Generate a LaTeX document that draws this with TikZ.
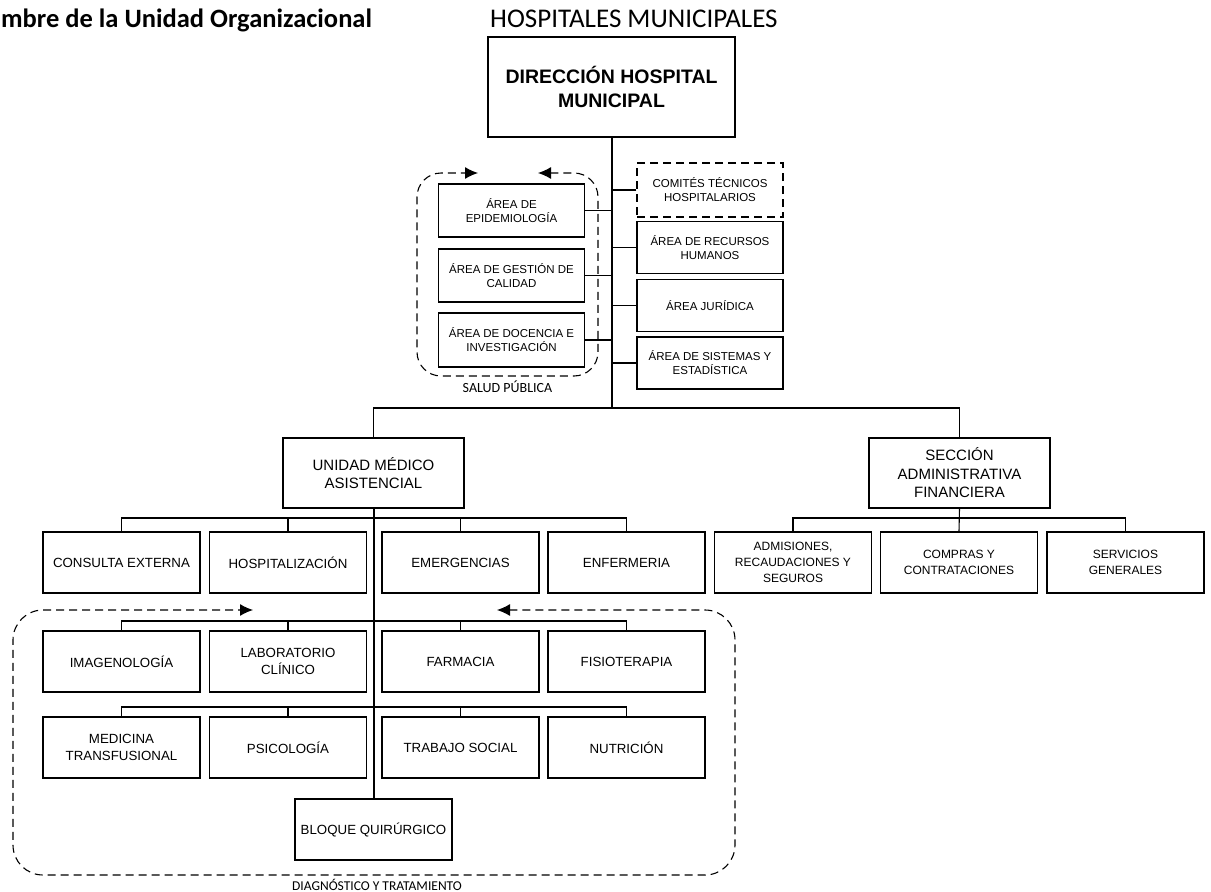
\documentclass[tikz,border=0pt]{standalone}
\usepackage{fontspec}
\setmainfont{Liberation Sans}
\newfontfamily\calib{Carlito}
\usetikzlibrary{arrows.meta}
\begin{document}
\begin{tikzpicture}[x=1pt,y=-1pt,
  box/.style={draw,line width=1.1pt,align=center,inner sep=1pt},
  wide/.style={minimum width=157,minimum height=61},
  small/.style={minimum width=146,font=\fontsize{11.5}{14}\selectfont},
  tA/.style={font=\fontsize{13.3}{16.5}\selectfont},
  tB/.style={font=\fontsize{12}{16}\selectfont},
  tU/.style={font=\fontsize{15}{18.5}\selectfont},
  link/.style={line width=1.1pt},
  trunk/.style={line width=2pt},
  grp/.style={line width=1.1pt,dash pattern=on 8pt off 5pt,
    {Latex[length=13pt,width=12pt]}-{Latex[length=13pt,width=12pt]}},
  grplabel/.style={anchor=base,font=\calib\fontsize{14}{16}\selectfont,inner sep=0pt}]
\useasboundingbox (0,0) rectangle (1211,892);

% titles
\node[anchor=base west,inner sep=0pt,font=\calib\bfseries\fontsize{26.5}{30}\selectfont] (ttl) at (1,27) {mbre de la Unidad Organizacional};
\node[anchor=base west,inner sep=0pt,font=\calib\fontsize{27}{30}\selectfont] (hosp) at (490,27) {HOSPITALES MUNICIPALES};

% top
\node[box,line width=1.6pt,minimum width=247,minimum height=100,font=\bfseries\fontsize{19.5}{24}\selectfont] (dir) at (611.5,87) {DIRECCIÓN HOSPITAL\\MUNICIPAL};

% salud publica
\node[box,small,minimum height=53] (epi) at (511.5,210.5) {ÁREA DE\\EPIDEMIOLOGÍA};
\node[box,small,minimum height=53] (gest) at (511.5,275.5) {ÁREA DE GESTIÓN DE\\CALIDAD};
\node[box,small,minimum height=54] (doc) at (511.5,340) {ÁREA DE DOCENCIA E\\INVESTIGACIÓN};
\node[grplabel] (salud) at (507.5,392.5) {SALUD PÚBLICA};

% staff right
\node[box,small,minimum height=54,dash pattern=on 8pt off 5pt] (com) at (710,190) {COMITÉS TÉCNICOS\\HOSPITALARIOS};
\node[box,small,minimum height=52] (rh) at (710,247.5) {ÁREA DE RECURSOS\\HUMANOS};
\node[box,small,minimum height=52] (jur) at (710,305.5) {ÁREA JURÍDICA};
\node[box,small,minimum height=52] (sis) at (710,363) {ÁREA DE SISTEMAS Y\\ESTADÍSTICA};

% second level
\node[box,tU,minimum width=181,minimum height=70] (uni) at (373.5,473) {UNIDAD MÉDICO\\ASISTENCIAL};
\node[box,tU,minimum width=181,minimum height=70] (sec) at (959.5,473) {SECCIÓN\\ADMINISTRATIVA\\FINANCIERA};

% row A
\node[box,wide,tA] (cons) at (121.5,562.5) {CONSULTA EXTERNA};
\node[box,wide,tA] (hosz) at (288,562.5) {HOSPITALIZACIÓN};
\node[box,wide,tA] (emer) at (460.5,562.5) {EMERGENCIAS};
\node[box,wide,tA] (enf) at (626.5,562.5) {ENFERMERIA};

\node[box,wide,tB] (adm) at (793,562.5) {ADMISIONES,\\RECAUDACIONES Y\\SEGUROS};
\node[box,wide,tB] (comp) at (959,562.5) {COMPRAS Y\\CONTRATACIONES};
\node[box,wide,tB] (serv) at (1125.5,562.5) {SERVICIOS\\GENERALES};

% row B
\node[box,wide,tA] (imag) at (121.5,661.5) {IMAGENOLOGÍA};
\node[box,wide,tA] (lab) at (288,661.5) {LABORATORIO\\CLÍNICO};
\node[box,wide,tA] (farm) at (460.5,661.5) {FARMACIA};
\node[box,wide,tA] (fis) at (626.5,661.5) {FISIOTERAPIA};

% row C
\node[box,wide,tA] (med) at (121.5,747.5) {MEDICINA\\TRANSFUSIONAL};
\node[box,wide,tA] (psi) at (288,747.5) {PSICOLOGÍA};
\node[box,wide,tA] (trab) at (460.5,747.5) {TRABAJO SOCIAL};
\node[box,wide,tA] (nut) at (626.5,747.5) {NUTRICIÓN};

\node[box,wide,tA] (blq) at (373.5,829.5) {BLOQUE QUIRÚRGICO};
\node[grplabel,font=\calib\fontsize{13.5}{15}\selectfont] (diag) at (377,890) {DIAGNÓSTICO Y TRATAMIENTO};

% coordinates
\coordinate (b1) at (611.5,408);
\coordinate (bA) at (373.5,518);
\coordinate (bB) at (373.5,621);
\coordinate (bC) at (373.5,707);
\coordinate (bS) at (959.5,518);

% trunks
\draw[trunk] (dir.south) -- (b1);
\draw[trunk] (uni.south) -- (blq.north);
\draw[link] (uni.north) |- (b1);
\draw[link] (sec.north) |- (b1);

% staff links
\foreach \n in {epi,gest,doc} \draw[link] (\n.east) -- (\n.east -| b1);
\foreach \n in {com,rh,jur,sis} \draw[link] (\n.west) -- (\n.west -| b1);

% buses
\draw[link] (cons.north) |- (bA) -| (enf.north);
\draw[link] (hosz.north) -- (hosz.north |- bA);
\draw[link] (emer.north) -- (emer.north |- bA);
\draw[link] (imag.north) |- (bB) -| (fis.north);
\draw[link] (lab.north) -- (lab.north |- bB);
\draw[link] (farm.north) -- (farm.north |- bB);
\draw[link] (med.north) |- (bC) -| (nut.north);
\draw[link] (psi.north) -- (psi.north |- bC);
\draw[link] (trab.north) -- (trab.north |- bC);
\draw[link] (adm.north) |- (bS) -| (serv.north);
\draw[link] (sec.south) -- (comp.north);

% groups
\coordinate (sA) at (538,173);
\coordinate (sB) at (478,173);
\draw[grp,rounded corners=24] (sA) -- (598,173) -- (598,376) -- (417,376) -- (417,173) -- (sB);
\coordinate (dA) at (497,610);
\coordinate (dB) at (253,610);
\draw[grp,rounded corners=30] (dA) -- (735,610) -- (735,875) -- (13,875) -- (13,610) -- (dB);
\end{tikzpicture}
\end{document}
